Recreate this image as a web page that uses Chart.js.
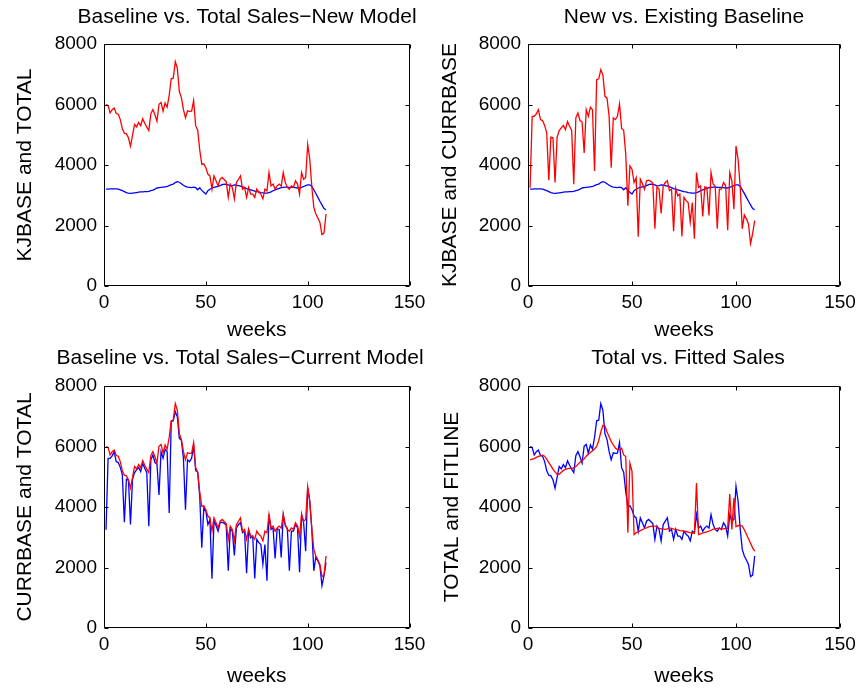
<!DOCTYPE html>
<html>
<head>
<meta charset="utf-8">
<script src="https://cdn.jsdelivr.net/npm/chart.js@4.4.0/dist/chart.umd.min.js"></script>
<style>
  body { margin: 0; background: #fff; }
  #fig { position: relative; width: 863px; height: 690px; }
  canvas { position: absolute; }
</style>
</head>
<body>
<div id="fig">
  <canvas id="tl" style="left:0;top:0" width="431" height="345"></canvas>
  <canvas id="tr" style="left:431px;top:0" width="432" height="345"></canvas>
  <canvas id="bl" style="left:0;top:345px" width="431" height="345"></canvas>
  <canvas id="br" style="left:431px;top:345px" width="432" height="345"></canvas>
</div>
<script>
// weekly sales, weeks 1..109
const TOTAL = [
  6000, 5970, 5720, 5830, 5880, 5700, 5680, 5500, 5200, 5050,
  5030, 4900, 4620, 4980, 5340, 5260, 5400, 5300, 5530, 5380,
  5250, 5140, 5700, 5830, 5660, 5450, 6010, 6070, 5780, 6050,
  5910, 6300, 6850, 6870, 7420, 7200, 6420, 6230, 5830, 5560,
  5790, 5770, 5780, 6130, 5300, 5150, 4500, 4020, 4040, 3910,
  3700, 3640, 3200, 3640, 3480, 3310, 3530, 3590, 3520, 3450,
  2930, 3370, 3260, 2880, 3420, 3530, 3640, 3200, 3260, 2930,
  3260, 3040, 3040, 2930, 3200, 3100, 3040, 2880, 3200, 3150,
  3750, 3310, 3370, 3200, 3310, 3370, 3300, 3750, 3420, 3260,
  3200, 3310, 3260, 3480, 3370, 3040, 3750, 3530, 3590, 4680,
  4200, 3300, 2600, 2380, 2250, 2100, 1700, 1750, 2380
];
const KJBASE = [
  3200, 3200, 3210, 3210, 3210, 3210, 3200, 3180, 3150, 3120,
  3090, 3070, 3060, 3070, 3080, 3090, 3100, 3110, 3110, 3120,
  3120, 3130, 3150, 3170, 3200, 3240, 3250, 3260, 3270, 3280,
  3290, 3320, 3350, 3370, 3420, 3450, 3430, 3380, 3330, 3290,
  3270, 3260, 3250, 3270, 3250, 3180, 3250, 3160, 3100, 3040,
  3150, 3200, 3240, 3260, 3280, 3290, 3320, 3350, 3370, 3360,
  3340, 3310, 3320, 3340, 3330, 3320, 3300, 3280, 3250, 3220,
  3200, 3180, 3160, 3140, 3120, 3110, 3090, 3080, 3070, 3070,
  3090, 3110, 3150, 3180, 3200, 3230, 3250, 3260, 3270, 3270,
  3260, 3260, 3260, 3250, 3240, 3240, 3260, 3290, 3320, 3340,
  3340, 3300, 3180, 3060, 2930, 2800, 2680, 2560, 2520
];
const CURRBASE = [
  3250, 5610, 5610, 5690, 5830, 5500, 5470, 5310, 5060, 3500,
  4920, 4900, 3420, 4920, 5140, 5230, 5310, 5170, 5440, 5280,
  5140, 3365, 5560, 5720, 5470, 5420, 4400, 5830, 5610, 5910,
  5830, 3800, 6820, 6850, 7150, 6980, 6270, 6210, 5600, 3910,
  5560, 5500, 5610, 6020, 5210, 5150, 4350, 2650, 3970, 3860,
  3420, 3580, 1630, 3530, 3390, 3200, 3480, 3500, 3460, 3400,
  1890, 3280, 3200, 2400, 3310, 3420, 3480, 3150, 3200, 1810,
  3230, 2980, 3040, 1640, 2930, 2820, 2760, 2110, 2760, 1560,
  3750, 3260, 3310, 2300, 3280, 3260, 2330, 3750, 3370, 3300,
  1890, 3200, 3200, 3420, 3320, 1840, 3750, 3480, 2540, 4630,
  4190, 3300, 1890, 2350, 2220, 2050, 1400, 1730, 2160
];
const FITLINE = [
  5560, 5580, 5600, 5640, 5670, 5690, 5710, 5680, 5580, 5470,
  5360, 5250, 5160, 5080, 5080, 5150, 5210, 5240, 5270, 5280,
  5280, 5290, 5340, 5410, 5480, 5530, 5590, 5680, 5750, 5800,
  5860, 5920, 6000, 6200, 6480, 6700, 6680, 6480, 6320, 6170,
  6050, 5950, 5900, 5900, 5940, 5720, 5670, 3150, 5450, 5180,
  3090, 3150, 3180, 3220, 3250, 3290, 3310, 3340, 3360, 3370,
  3370, 3330, 3290, 3280, 3270, 3260, 3280, 3310, 3290, 3270,
  3260, 3240, 3220, 3210, 3200, 3190, 3170, 3150, 3140, 3130,
  4790, 3090, 3110, 3140, 3160, 3180, 3200, 3230, 3270, 3280,
  3290, 3290, 3280, 3280, 3290, 3290, 4430, 3260, 4300, 3350,
  3380, 3390, 3370, 3250, 3100, 2950, 2800, 2650, 2540
];
const weeks = TOTAL.map((_, i) => i + 1);

const xTicks = [0, 50, 100, 150];
const yTicks = [0, 2000, 4000, 6000, 8000];

const FONT = "'Liberation Sans', Arial, Helvetica, sans-serif";
const TICK_SIZE = 19;
const LABEL_SIZE = 21;

function pts(values) {
  return values.map((v, i) => ({ x: weeks[i], y: v }));
}

// box round the axes and inward tick marks, like matlab
const axesBox = {
  id: 'axesBox',
  afterDatasetsDraw(chart) {
    const { ctx, chartArea: a, scales } = chart;
    const L = Math.round(a.left) + 0.5, R = Math.round(a.right) - 0.5;
    const T = Math.round(a.top) + 0.5, B = Math.round(a.bottom) - 0.5;
    const len = 4;
    ctx.save();
    ctx.strokeStyle = '#000';
    ctx.lineWidth = 1;
    ctx.beginPath();
    ctx.rect(L, T, R - L, B - T);
    xTicks.forEach(v => {
      const px = Math.round(scales.x.getPixelForValue(v)) + 0.5;
      ctx.moveTo(px, B); ctx.lineTo(px, B - len);
      ctx.moveTo(px, T); ctx.lineTo(px, T + len);
    });
    yTicks.forEach(v => {
      const py = Math.round(scales.y.getPixelForValue(v)) + 0.5;
      ctx.moveTo(L, py); ctx.lineTo(L + len, py);
      ctx.moveTo(R, py); ctx.lineTo(R - len, py);
    });
    ctx.stroke();
    ctx.restore();
  }
};

// title placed where matlab put it (it is allowed to run past the axes)
const subTitle = {
  id: 'subTitle',
  afterDraw(chart, args, opts) {
    const ctx = chart.ctx;
    ctx.save();
    ctx.fillStyle = '#000';
    ctx.font = LABEL_SIZE + 'px ' + FONT;
    ctx.textAlign = 'center';
    ctx.textBaseline = 'middle';
    ctx.fillText(opts.text, opts.x, opts.y);
    ctx.restore();
  }
};

function subplot(id, cfg) {
  return new Chart(document.getElementById(id), {
    type: 'line',
    data: {
      datasets: [
        { data: pts(cfg.red), borderColor: '#ff0000' },
        { data: pts(cfg.blue), borderColor: '#0000ff' }
      ]
    },
    options: {
      responsive: false,
      animation: false,
      events: [],
      layout: { padding: { left: 0, right: cfg.padRight, top: cfg.top, bottom: 0 } },
      elements: {
        line: { borderWidth: 1.3, tension: 0, fill: false },
        point: { radius: 0 }
      },
      plugins: {
        legend: { display: false },
        tooltip: { enabled: false },
        title: { display: false },
        subTitle: { text: cfg.title, x: cfg.titleX, y: cfg.titleY }
      },
      scales: {
        x: {
          type: 'linear',
          min: 0, max: 150,
          afterBuildTicks: s => { s.ticks = xTicks.map(v => ({ value: v })); },
          afterFit: s => { s.height = cfg.xHeight; },
          grid: { display: false, drawTicks: false },
          border: { display: false },
          ticks: {
            color: '#000', padding: 5.6, maxRotation: 0, autoSkip: false,
            font: { family: FONT, size: TICK_SIZE },
            callback: v => String(v)
          },
          title: {
            display: true, text: 'weeks', color: '#000',
            font: { family: FONT, size: LABEL_SIZE },
            padding: { top: 0, bottom: cfg.xTitlePad }
          }
        },
        y: {
          min: 0, max: 8000,
          afterBuildTicks: s => { s.ticks = yTicks.map(v => ({ value: v })); },
          afterFit: s => { s.width = cfg.yWidth; },
          grid: { display: false, drawTicks: false },
          border: { display: false },
          ticks: {
            color: '#000', padding: 7,
            font: { family: FONT, size: TICK_SIZE },
            callback: v => String(v)
          },
          title: {
            display: true, text: cfg.ylabel, color: '#000',
            font: { family: FONT, size: LABEL_SIZE },
            padding: { top: cfg.yTitlePad, bottom: 0 }
          }
        }
      }
    },
    plugins: [axesBox, subTitle]
  });
}

subplot('tl', {
  title: 'Baseline vs. Total Sales\u2212New Model', ylabel: 'KJBASE and TOTAL',
  red: TOTAL, blue: KJBASE, titleX: 247, titleY: 17, top: 44,
  yWidth: 104, padRight: 16, xHeight: 59, xTitlePad: 2.4, yTitlePad: 12.4
});
subplot('tr', {
  title: 'New vs. Existing Baseline', ylabel: 'KJBASE and CURRBASE',
  red: CURRBASE, blue: KJBASE, titleX: 253, titleY: 17, top: 44,
  yWidth: 97, padRight: 23, xHeight: 59, xTitlePad: 2.4, yTitlePad: 6.4
});
subplot('bl', {
  title: 'Baseline vs. Total Sales\u2212Current Model', ylabel: 'CURRBASE and TOTAL',
  red: TOTAL, blue: CURRBASE, titleX: 240, titleY: 13, top: 41,
  yWidth: 104, padRight: 16, xHeight: 62, xTitlePad: 1.4, yTitlePad: 12.4
});
subplot('br', {
  title: 'Total vs. Fitted Sales', ylabel: 'TOTAL and FITLINE',
  red: FITLINE, blue: TOTAL, titleX: 257, titleY: 13, top: 41,
  yWidth: 97, padRight: 23, xHeight: 62, xTitlePad: 1.4, yTitlePad: 8.4
});
</script>
</body>
</html>
